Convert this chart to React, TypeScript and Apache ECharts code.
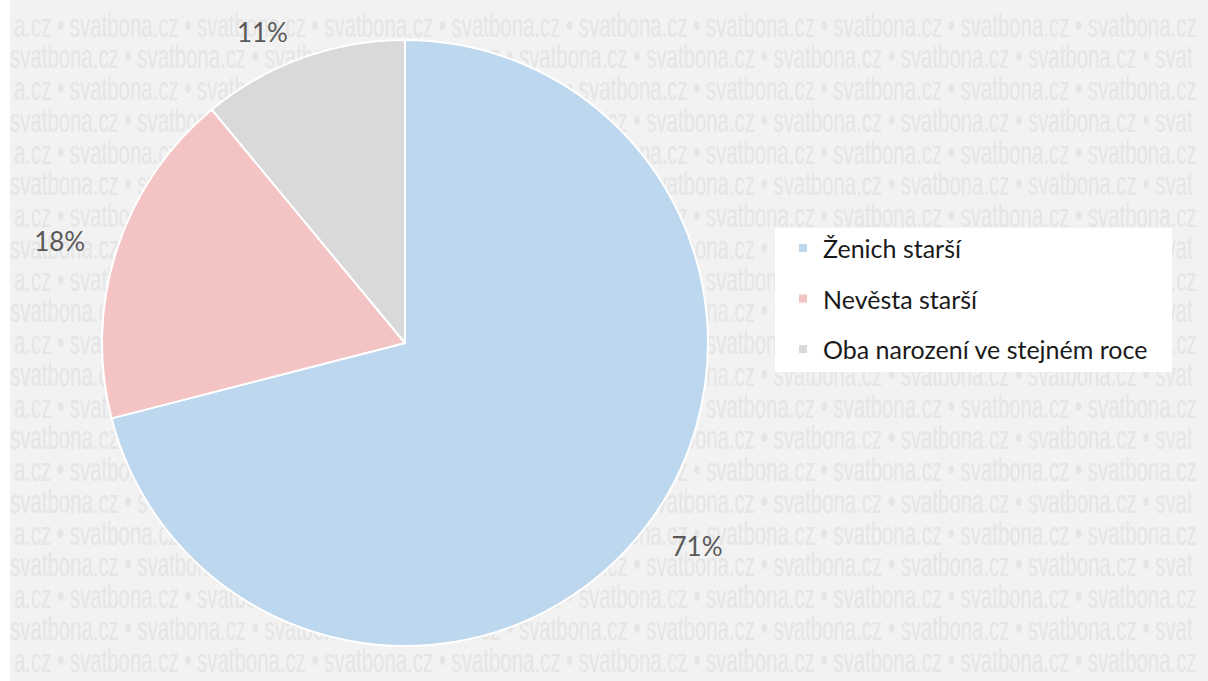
import React, { useEffect, useRef } from "react";
import * as echarts from "echarts";

const categories = ["Ženich starší", "Nevěsta starší", "Oba narození ve stejném roce"];
const values = [71, 18, 11];
const colors = ["#BDD7EE", "#F4C3C3", "#D9D9D9"];
const watermarkWord = "svatbona.cz";
const watermarkHead = "a.cz";
const watermarkTail = "svat";
const watermarkRows = 21;

function buildWatermark() {
  const words = Array.from({ length: 9 }, () => watermarkWord).join(" • ");
  const evenRow = watermarkHead + " • " + words;
  const oddRow = words + " • " + watermarkTail;
  const els: any[] = [];
  for (let i = 0; i < watermarkRows; i++) {
    els.push({
      type: "text",
      x: i % 2 === 0 ? 14 : 10,
      y: 25 + 31.75 * i,
      scaleX: 0.6,
      silent: true,
      z: 0,
      style: {
        text: i % 2 === 0 ? evenRow : oddRow,
        fontSize: 34,
        fontFamily: "Liberation Sans",
        fill: "#e5e5e5",
        textAlign: "left",
        textVerticalAlign: "middle",
        align: "left",
        verticalAlign: "middle",
      },
    });
  }
  return els;
}

export default function App() {
  const ref = useRef<HTMLDivElement>(null);
  useEffect(() => {
    if (!ref.current) return;
    const chart = echarts.init(ref.current, undefined, { renderer: "svg" });
    const option: any = {
      animation: false,
      backgroundColor: "#ffffff",
      graphic: [
        {
          type: "rect",
          shape: { x: 10, y: 0, width: 1198, height: 681 },
          style: { fill: "#f2f2f2" },
          silent: true,
          z: 0,
        },
        ...buildWatermark(),
        {
          type: "rect",
          shape: { x: 775, y: 228, width: 397, height: 144 },
          style: { fill: "#ffffff" },
          silent: true,
          z: 1,
        },
      ],
      legend: {
        orient: "vertical",
        left: 775,
        top: 228,
        padding: [5, 17, 8, 22],
        itemWidth: 10,
        itemHeight: 10,
        itemGap: 20.5,
        icon: "rect",
        textStyle: {
          fontFamily: "Lato",
          fontSize: 25,
          color: "#1a1a1a",
          lineHeight: 30,
          padding: [0, 0, 0, 10],
        },
        data: categories,
      },
      series: [
        {
          type: "pie",
          center: [405, 343],
          radius: 303,
          startAngle: 90,
          clockwise: true,
          avoidLabelOverlap: false,
          emphasis: { disabled: true },
          itemStyle: { borderColor: "#ffffff", borderWidth: 2 },
          label: {
            show: true,
            position: "outside",
            formatter: (p: any) => p.value + "%",
            fontFamily: "Lato",
            fontSize: 26,
            color: "#595959",
          },
          labelLine: { show: false, length: 28, length2: 0 },
          data: categories.map((name, i) => ({
            name,
            value: values[i],
            itemStyle: { color: colors[i] },
          })),
        },
      ],
    };
    chart.setOption(option);
    return () => chart.dispose();
  }, []);
  return (
    <div
      ref={ref}
      style={{ position: "fixed", left: 0, top: 0, width: 1208, height: 681 }}
    />
  );
}
